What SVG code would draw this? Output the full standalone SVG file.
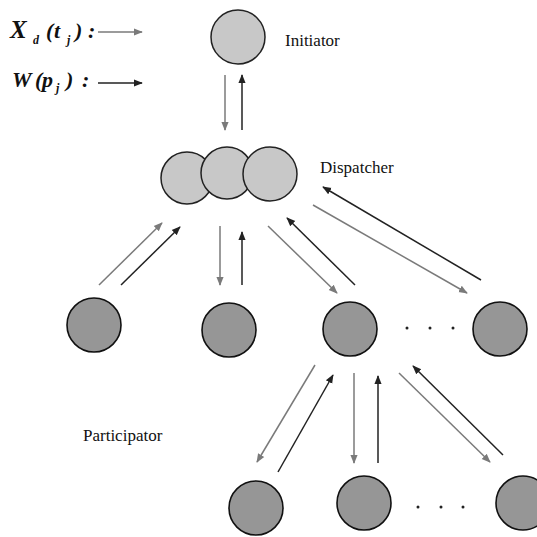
<svg xmlns="http://www.w3.org/2000/svg" width="537" height="537" viewBox="0 0 537 537">
<style>
.lt{fill:#c8c8c8;stroke:#222;stroke-width:1.5}
.dk{fill:#969696;stroke:#111;stroke-width:1.6}
.g{stroke:#7a7a7a;stroke-width:1.5;fill:none;marker-end:url(#ag)}
.b{stroke:#222;stroke-width:1.5;fill:none;marker-end:url(#ab)}
.lbl{font-family:"Liberation Serif",serif;font-size:17px;fill:#111}
.m{font-family:"Liberation Serif",serif;font-style:italic;font-weight:bold;fill:#111}
.dot{fill:#222}
</style>
<defs>
<marker id="ag" viewBox="0 0 10 10" refX="9" refY="5" markerWidth="9" markerHeight="9" orient="auto" markerUnits="userSpaceOnUse"><path d="M0,1 L10,5 L0,9 Z" fill="#7a7a7a"/></marker>
<marker id="ab" viewBox="0 0 10 10" refX="9" refY="5" markerWidth="9" markerHeight="9" orient="auto" markerUnits="userSpaceOnUse"><path d="M0,1 L10,5 L0,9 Z" fill="#222"/></marker>
</defs>
<g id="legend">
<text class="m" x="10" y="38" font-size="25">X</text>
<text class="m" x="33" y="44" font-size="12">d</text>
<text class="m" x="46" y="38" font-size="22">(</text>
<text class="m" x="54" y="38" font-size="22">t</text>
<text class="m" x="67" y="44" font-size="12">j</text>
<text class="m" x="75" y="38" font-size="22">)</text>
<text class="m" x="88" y="38" font-size="22">:</text>
<line x1="98" y1="32" x2="142" y2="32" class="g"/>
<text class="m" x="12" y="87" font-size="22">W</text>
<text class="m" x="35" y="87" font-size="22">(</text>
<text class="m" x="42" y="87" font-size="22">p</text>
<text class="m" x="56" y="92" font-size="12">j</text>
<text class="m" x="66" y="87" font-size="22">)</text>
<text class="m" x="82" y="87" font-size="22">:</text>
<line x1="98" y1="83" x2="142" y2="83" class="b"/>
</g>
<g id="initiator">
<circle class="lt" cx="238" cy="37" r="27"/>
<text class="lbl" x="285" y="46">Initiator</text>
</g>
<g id="dispatcher">
<circle class="lt" cx="187" cy="178" r="26"/>
<circle class="lt" cx="227" cy="173" r="26"/>
<circle class="lt" cx="270" cy="174" r="27"/>
<text class="lbl" x="320" y="173">Dispatcher</text>
</g>
<g id="p1"><circle class="dk" cx="94" cy="325" r="27"/></g>
<g id="p2"><circle class="dk" cx="229" cy="330" r="27"/></g>
<g id="p3"><circle class="dk" cx="350" cy="329" r="27"/></g>
<g id="p4"><circle class="dk" cx="500" cy="329" r="27"/></g>
<g id="dots1">
<circle class="dot" cx="407" cy="328" r="1.5"/>
<circle class="dot" cx="430" cy="328" r="1.5"/>
<circle class="dot" cx="453" cy="328" r="1.5"/>
</g>
<g id="participator-label"><text class="lbl" x="83" y="441">Participator</text></g>
<g id="c1"><circle class="dk" cx="256" cy="508" r="27"/></g>
<g id="c2"><circle class="dk" cx="364" cy="503" r="27"/></g>
<g id="c3"><circle class="dk" cx="523" cy="503" r="27"/></g>
<g id="dots2">
<circle class="dot" cx="418" cy="507" r="1.5"/>
<circle class="dot" cx="441" cy="507" r="1.5"/>
<circle class="dot" cx="463" cy="507" r="1.5"/>
</g>
<g id="connectors">
<line x1="225" y1="75" x2="225" y2="130" class="g"/>
<line x1="242" y1="130" x2="242" y2="75" class="b"/>
<line x1="99" y1="285" x2="162" y2="223" class="g"/>
<line x1="121" y1="285" x2="180" y2="227" class="b"/>
<line x1="220" y1="226" x2="220" y2="285" class="g"/>
<line x1="242" y1="285" x2="242" y2="232" class="b"/>
<line x1="268" y1="226" x2="337" y2="293" class="g"/>
<line x1="355" y1="285" x2="287" y2="218" class="b"/>
<line x1="313" y1="205" x2="467" y2="293" class="g"/>
<line x1="481" y1="280" x2="323" y2="187" class="b"/>
<line x1="315" y1="365" x2="257" y2="462" class="g"/>
<line x1="278" y1="472" x2="333" y2="375" class="b"/>
<line x1="354" y1="373" x2="354" y2="463" class="g"/>
<line x1="378" y1="463" x2="378" y2="376" class="b"/>
<line x1="399" y1="373" x2="490" y2="462" class="g"/>
<line x1="503" y1="455" x2="413" y2="366" class="b"/>
</g>
</svg>
